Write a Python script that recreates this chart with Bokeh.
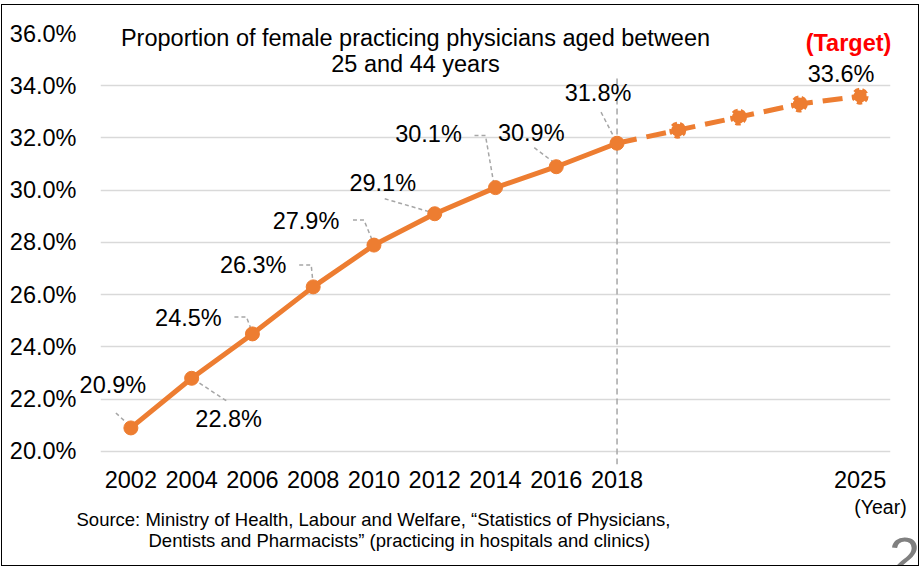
from bokeh.plotting import figure
from bokeh.models import (Range1d, FixedTicker, PrintfTickFormatter,
                          ColumnDataSource)
from bokeh.core.properties import value
from bokeh.embed import file_html
from bokeh.resources import INLINE

# ---- data ----
years = ["2002", "2004", "2006", "2008", "2010", "2012", "2014", "2016", "2018"]
actual = [20.9, 22.8, 24.5, 26.3, 27.9, 29.1, 30.1, 30.9, 31.8]
target_labels = ["2018", "", "", "", "2025"]
target_values = [31.8, 32.3, 32.8, 33.3, 33.6]
y_ticks = [20, 22, 24, 26, 28, 30, 32, 34, 36]

FONT = "Liberation Sans"
ORANGE = "#ED7D31"
GREY = "#A6A6A6"
FS = "23.5px"

OX, OY = 2, 6          # canvas origin in page pixels
W, H = 918, 562
ML, MT = 98, 28
FW, FH = 790, 431
MR = W - ML - FW
MB = H - MT - FH
FX, FY = OX + ML, OY + MT + FH   # page position of frame bottom-left

x_idx = list(range(len(years)))
t_idx = list(range(len(years) - 1, len(years) - 1 + len(target_values)))
all_labels = years + target_labels[1:]

x0, x1 = -0.5, len(all_labels) - 0.5
y0, y1 = 19.5, 36.0
sx = FW / (x1 - x0)
sy = FH / (y1 - y0)

p = figure(width=W, height=H, output_backend="svg", toolbar_location=None,
           x_range=Range1d(x0, x1), y_range=Range1d(y0, y1),
           min_border_left=ML, min_border_right=MR, min_border_top=MT,
           min_border_bottom=MB)
p.outline_line_color = None
p.background_fill_color = "white"
p.border_fill_color = "white"

# grid
p.xgrid.grid_line_color = None
p.ygrid.ticker = FixedTicker(ticks=y_ticks)
p.ygrid.grid_line_color = "#D9D9D9"
p.ygrid.grid_line_width = 1.5

# axes
p.yaxis.ticker = FixedTicker(ticks=y_ticks)
p.yaxis.formatter = PrintfTickFormatter(format="%.1f%%")
p.yaxis.axis_line_color = None
p.yaxis.major_tick_line_color = None
p.yaxis.minor_tick_line_color = None
p.yaxis.major_label_text_font = FONT
p.yaxis.major_label_text_font_size = FS
p.yaxis.major_label_text_color = "black"
p.yaxis.major_label_standoff = 18

tick_pos = [i for i, l in enumerate(all_labels) if l]
p.xaxis.ticker = FixedTicker(ticks=tick_pos)
p.xaxis.major_label_overrides = {i: l for i, l in enumerate(all_labels) if l}
p.xaxis.axis_line_color = None
p.xaxis.major_tick_line_color = None
p.xaxis.minor_tick_line_color = None
p.xaxis.major_label_text_font = FONT
p.xaxis.major_label_text_font_size = FS
p.xaxis.major_label_text_color = "black"
p.xaxis.major_label_standoff = 0

# vertical reference line at 2018
i18 = len(years) - 1
p.segment(x0=[i18], y0=[y0], x1=[i18], y1=[34.3], line_color=GREY,
          line_width=1.5, line_dash="6 4")

# leader lines (pixel offsets relative to each point)
leaders = [
    [(-15, -15), (-2, -3)],
    [(2, 1), (37, 24)],
    [(-18, -17), (-6, -17), (0, -1)],
    [(-14, -22), (-2, -22), (0, -2)],
    [(-21, -25), (-10, -25), (-1, -3)],
    [(-50, -15), (-2, -1)],
    [(-21, -52), (-10, -52), (-1, 0)],
    [(-22, -19), (-2, -4)],
    [(-16, -31), (-2, -4)],
]
xs, ys = [], []
for i, (v, pts) in enumerate(zip(actual, leaders)):
    xs.append([i + dx / sx for dx, dy in pts])
    ys.append([v - dy / sy for dx, dy in pts])
p.multi_line(xs=xs, ys=ys, line_color=GREY, line_width=1.5, line_dash="4 3")

# target (dashed)
p.line(t_idx, target_values, line_color=ORANGE, line_width=5, line_dash="20 10")
p.scatter(t_idx[1:], target_values[1:], size=13, fill_color=ORANGE,
          line_color=ORANGE, line_width=4, line_dash="5 3")

# actual (solid)
p.line(x_idx, actual, line_color=ORANGE, line_width=5)
p.scatter(x_idx, actual, size=14, fill_color=ORANGE, line_color=ORANGE)

# data labels
offsets = [(-18, -43), (37, 41), (-64, -16), (-60, -22), (-68, -24),
           (-52, -31), (-67, -54), (-25, -34), (-19, -50)]
src = ColumnDataSource(dict(
    x=x_idx, y=actual, t=[f"{v:.1f}%" for v in actual],
    xo=[o[0] for o in offsets], yo=[o[1] for o in offsets]))
p.text(x="x", y="y", text="t", x_offset="xo", y_offset="yo", source=src,
       text_font=value(FONT), text_font_size=FS, text_color="black",
       text_align="center", text_baseline="middle", level="overlay")
p.text(x=[t_idx[-1]], y=[target_values[-1]], text=[f"{target_values[-1]:.1f}%"],
       x_offset=-19, y_offset=-22, text_font=value(FONT), text_font_size=FS,
       text_color="black", text_align="center", text_baseline="middle",
       level="overlay")


def lab(text, x, y, size, color="black", align="center", style="normal",
        baseline="middle"):
    # x, y: page pixel positions, anchored at the frame's bottom-left corner
    p.text(x=[x0], y=[y0], text=[text], x_offset=x - FX, y_offset=y - FY,
           text_font=value(FONT), text_font_size=size, text_color=color,
           text_align=align, text_baseline=baseline, text_font_style=style,
           level="overlay")


lab("Proportion of female practicing physicians aged between", 415, 38, FS)
lab("25 and 44 years", 415, 64, FS)
lab("(Target)", 848, 43, FS, color="#FF0000", style="bold")
lab("Source: Ministry of Health, Labour and Welfare, \u201cStatistics of Physicians,",
    76, 520, "18.5px", align="left")
lab("Dentists and Pharmacists\u201d (practicing in hospitals and clinics)",
    148, 541, "18.5px", align="left")
lab("(Year)", 880, 507, "19.5px")
lab("2", 904, 538, "56px", color="#808080", baseline="top")

p.styles = {"border": "1.5px solid black", "margin-left": "1px",
            "margin-top": "4px"}

open("out.html", "w").write(file_html(p, INLINE))
